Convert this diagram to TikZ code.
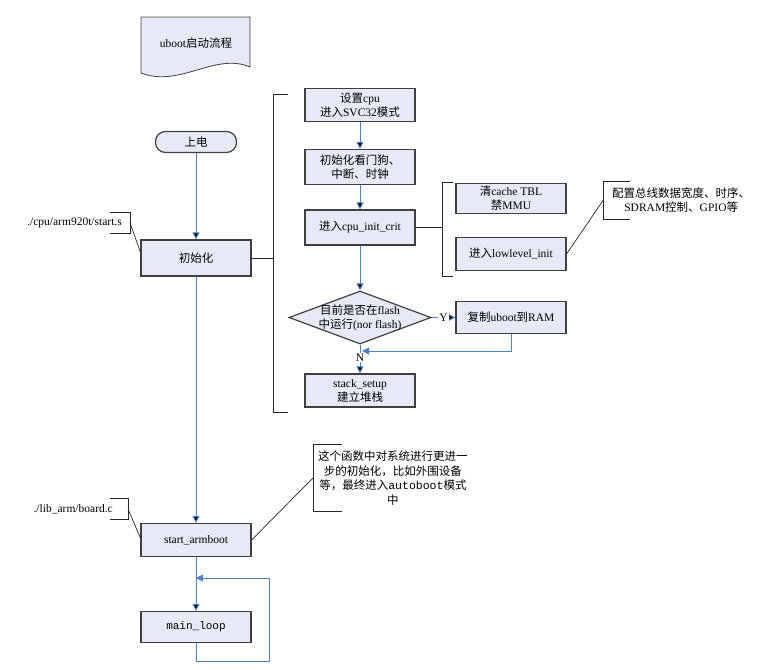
\documentclass[tikz,border=0pt]{standalone}
\usepackage{fontspec}
\setmainfont{Liberation Serif}
\setmonofont{Liberation Mono}
\newfontfamily\cjk{Noto Sans CJK SC}
\usetikzlibrary{shapes,arrows.meta}

\definecolor{boxfill}{RGB}{230,234,246}
\definecolor{boxline}{RGB}{64,64,64}
\definecolor{flowblue}{RGB}{79,129,189}

\begin{document}
\begin{tikzpicture}[x=1pt,y=1pt,font=\fontsize{11.5}{14}\selectfont]
\tikzstyle{box}=[draw=boxline,fill=boxfill,line width=1.2pt,minimum width=110pt,minimum height=33pt,align=center,inner sep=2pt]
\tikzstyle{terminal}=[box,rounded corners=10pt,minimum width=81pt,minimum height=21pt]
\tikzstyle{decision}=[box,diamond,shape aspect=2.7,minimum width=142pt,minimum height=53pt,inner sep=-6pt]
\tikzstyle{flow}=[draw=flowblue,line width=1pt,-{Triangle[length=7pt,width=7pt]}]
\tikzstyle{bracket}=[draw=black!85,line width=1pt]
\tikzstyle{link}=[draw=black!85,line width=0.7pt]
\tikzstyle{label}=[align=center,inner ysep=0pt]
\useasboundingbox (0,0) rectangle (780,-670);
% title sheet
\draw[draw=boxline,fill=boxfill,line width=0.8pt] (141,-17) -- (250,-17) -- (250,-67)
    .. controls (215,-52) and (180,-88) .. (141,-73) -- cycle;
\node (title) at (196,-43) {uboot{\cjk 启动流程}};
% main column
\node [terminal,below of=title,node distance=99pt] (poweron) {{\cjk 上电}};
\node [box,below of=poweron,node distance=116pt,minimum height=36pt] (init) {{\cjk 初始化}};
\node [box,below of=init,node distance=282pt] (startarm) {start\_armboot};
\node [box,below of=startarm,node distance=87pt,minimum height=31pt,font=\ttfamily\fontsize{11}{14}\selectfont] (mainloop) {main\_loop};
% start.s column
\node [box] at (360,-105) (setcpu) {{\cjk 设置}cpu\\{\cjk 进入}SVC32{\cjk 模式}};
\node [box,below of=setcpu,node distance=62pt,minimum height=35pt] (wdog) {{\cjk 初始化看门狗、}\\{\cjk 中断、时钟}};
\node [box,below of=wdog,node distance=60.5pt,minimum height=35pt] (critinit) {{\cjk 进入}cpu\_init\_crit};
\node [decision,below of=critinit,node distance=90pt] (flash) {{\cjk 目前是否在}flash\\{\cjk 中运行}(nor flash)};
\node [box,below of=flash,node distance=73pt] (stack) {stack\_setup\\{\cjk 建立堆栈}};
\node [box,right of=flash,node distance=151pt,minimum height=32pt] (copy) {{\cjk 复制}uboot{\cjk 到}RAM};
\node [box,above of=copy,node distance=63.5pt] (lowlevel) {{\cjk 进入}lowlevel\_init};
\node [box,above of=lowlevel,node distance=55.5pt,minimum height=30pt] (cache) {{\cjk 清}cache TBL\\{\cjk 禁}MMU};
% notes
\node [label,anchor=east,inner xsep=8pt,minimum height=20pt] at (130,-223) (startlbl) {./cpu/arm920t/start.s};
\node [label,anchor=east,inner xsep=15pt,minimum height=20pt] at (128,-509) (boardlbl) {./lib\_arm/board.c};
\node [label,anchor=west,inner xsep=9pt,minimum height=37pt] at (603,-200.5) (busnote) {{\cjk 配置总线数据宽度、时序、}\\SDRAM{\cjk 控制、}GPIO{\cjk 等}};
\node [label,anchor=west,inner xsep=5pt,minimum height=66pt,font=\fontsize{11.5}{14.5}\selectfont] at (313,-478) (bootnote)
    {{\cjk 这个函数中对系统进行更进一}\\{\cjk 步的初始化，比如外围设备}\\{\cjk 等，最终进入}{\ttfamily autoboot}{\cjk 模式}\\{\cjk 中}};
\coordinate (bigtop) at (273,-94);
\coordinate (bigbot) at (273,-412);
\coordinate (subtop) at (442,-182);
\coordinate (subbot) at (442,-276);
\coordinate (merge) at (362,-351);
\coordinate (loopbr) at (269,-661);
\coordinate (looptr) at (269,-578);
% flow
\path[flow]
    (poweron) edge (init)
    (init) edge (startarm)
    (startarm) edge (mainloop)
    (setcpu) edge (wdog)
    (wdog) edge (critinit)
    (critinit) edge (flash)
    (flash) edge node [fill=white,inner sep=1pt] {Y} (copy)
    (flash) edge node [fill=white,inner sep=0.5pt,pos=0.45] {N} (stack);
\draw[flow] (copy.south) |- (merge);
\draw[flow] (mainloop.south) |- (loopbr) -- (looptr) -- (startarm.south |- looptr);
% brackets
\draw[bracket] ([xshift=15pt]bigtop) -- (bigtop) -- (bigbot) -- ([xshift=15pt]bigbot);
\draw[bracket] (init.east) -- (init.east -| bigtop);
\draw[bracket] ([xshift=11pt]subtop) -- (subtop) -- (subbot) -- ([xshift=11pt]subbot);
\draw[bracket] (critinit.east) -- (critinit.east -| subtop);
\draw[bracket] ([xshift=27pt]busnote.north west) -- (busnote.north west) -- (busnote.south west) -- ([xshift=27pt]busnote.south west);
\draw[bracket] ([xshift=29pt]bootnote.north west) -- (bootnote.north west) -- (bootnote.south west) -- ([xshift=29pt]bootnote.south west);
\draw[bracket] ([xshift=-20pt]startlbl.north east) -- (startlbl.north east) -- (startlbl.south east) -- ([xshift=-20pt]startlbl.south east);
\draw[bracket] ([xshift=-18pt]boardlbl.north east) -- (boardlbl.north east) -- (boardlbl.south east) -- ([xshift=-18pt]boardlbl.south east);
\path[link]
    (startlbl.east) edge ([yshift=6pt]init.west)
    (boardlbl.east) edge ([yshift=2pt]startarm.west)
    (lowlevel.east) edge (busnote.west)
    (startarm.east) edge (bootnote.west);
\end{tikzpicture}
\end{document}
